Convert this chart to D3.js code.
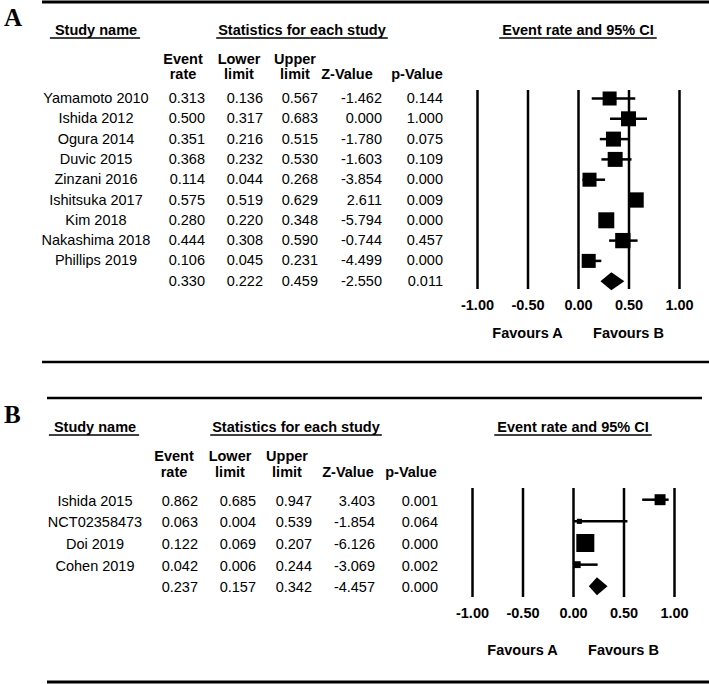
<!DOCTYPE html>
<meta charset="utf-8">
<title>Forest plots - event rate and 95% CI</title>
<style type="text/css">
body {
  margin: 0;
  background: #fff;
}
svg text {
  font-family: "Liberation Sans", Arial, sans-serif;
  font-size: 14.5px;
  fill: #000;
}
.bold { font-weight: bold; }
.letter {
  font-family: "Liberation Serif", "Times New Roman", serif !important;
  font-size: 25px !important;
  font-weight: bold;
}
.axis path { display: none; }
.axis line { stroke: #000; stroke-width: 2.5; }
.axis text { font-weight: bold; }
</style>
<script src="https://cdn.jsdelivr.net/npm/d3@7"></script>
<body>
<script>
var width = 709;
var height = 684;

// panel A
var studiesA = ["Yamamoto 2010","Ishida 2012","Ogura 2014","Duvic 2015","Zinzani 2016","Ishitsuka 2017","Kim 2018","Nakashima 2018","Phillips 2019"];
var rateA  = [0.313, 0.500, 0.351, 0.368, 0.114, 0.575, 0.280, 0.444, 0.106];
var lowerA = [0.136, 0.317, 0.216, 0.232, 0.044, 0.519, 0.220, 0.308, 0.045];
var upperA = [0.567, 0.683, 0.515, 0.530, 0.268, 0.629, 0.348, 0.590, 0.231];
var zA     = [-1.462, 0.000, -1.780, -1.603, -3.854, 2.611, -5.794, -0.744, -4.499];
var pA     = [0.144, 1.000, 0.075, 0.109, 0.000, 0.009, 0.000, 0.457, 0.000];
var weightsA = [9.9, 11.3, 11.3, 11.3, 9.9, 11.8, 12.9, 11.8, 9.9];
var overallA = [0.330, 0.222, 0.459, -2.550, 0.011];

// panel B
var studiesB = ["Ishida 2015","NCT02358473","Doi 2019","Cohen 2019"];
var rateB  = [0.862, 0.063, 0.122, 0.042];
var lowerB = [0.685, 0.004, 0.069, 0.006];
var upperB = [0.947, 0.539, 0.207, 0.244];
var zB     = [3.403, -1.854, -6.126, -3.069];
var pB     = [0.001, 0.064, 0.000, 0.002];
var weightsB = [23, 5, 62, 9];
var overallB = [0.237, 0.157, 0.342, -4.457, 0.000];

var ticks = [-1, -0.5, 0, 0.5, 1];
var colHeads = [["Event","rate"],["Lower","limit"],["Upper","limit"],["","Z-Value"],["","p-Value"]];

var svg = d3.select('body').append('svg').attr('width', width).attr('height', height);

function underlined(x, y, txt, padL, padR) {
  var t = svg.append('text').attr('class','bold').attr('x', x).attr('y', y)
             .attr('text-anchor','middle').text(txt);
  var bb = t.node().getBBox();
  svg.append('line')
     .attr('x1', bb.x - padL).attr('x2', bb.x + bb.width + padR)
     .attr('y1', y + 3).attr('y2', y + 3)
     .attr('stroke', '#000').attr('stroke-width', 1.6);
}

function drawPanel(p) {
  svg.append('text').attr('class','letter').attr('x', 4).attr('y', p.letterY).text(p.letter);

  underlined(p.nameX, p.headY, "Study name", 5, 3);
  underlined(p.statsX, p.headY, "Statistics for each study", 2, 2);
  underlined(p.ciX, p.headY, "Event rate and 95% CI", 3, 3);

  colHeads.forEach(function(h, i) {
    svg.append('text').attr('class','bold').attr('x', p.headCols[i]).attr('y', p.sub1Y)
       .attr('text-anchor','middle').text(h[0]);
    svg.append('text').attr('class','bold').attr('x', p.headCols[i]).attr('y', p.sub2Y)
       .attr('text-anchor','middle').text(h[1]);
  });

  var n = p.studies.length;
  var yScale = d3.scaleLinear().domain([0, n]).range([p.row0, p.row0 + n * p.rowStep]);
  var xScale = d3.scaleLinear().domain([-1, 1]).range(p.xRange);
  var size = d3.scaleSqrt().domain([0, d3.max(p.weights)]).range([0, p.maxSize]);

  var rows = p.studies.map(function(s, i) {
    return {name: s, vals: [p.rate[i], p.lower[i], p.upper[i], p.z[i], p.p[i]], w: p.weights[i], i: i};
  });
  rows.push({name: "", vals: p.overall, w: null, i: n});

  // axis with full-height grid lines
  var axis = svg.append('g').attr('class','axis')
      .attr('transform', 'translate(0,' + p.lineBottom + ')')
      .call(d3.axisBottom(xScale).tickValues(ticks)
            .tickSizeInner(-(p.lineBottom - p.lineTop)).tickSizeOuter(0)
            .tickPadding(10.5)
            .tickFormat(function(d) { return d.toFixed(2); }));
  axis.selectAll('text').style('font-size', '14.5px').attr('fill', '#000');

  svg.append('text').attr('class','bold').attr('x', xScale(-0.5)).attr('y', p.favY)
     .attr('text-anchor','middle').text("Favours A");
  svg.append('text').attr('class','bold').attr('x', xScale(0.5)).attr('y', p.favY)
     .attr('text-anchor','middle').text("Favours B");

  var g = svg.selectAll('.row' + p.letter).data(rows).enter().append('g')
     .attr('class', 'row' + p.letter);

  g.append('text').attr('x', p.nameX).attr('y', function(d) { return yScale(d.i); })
   .attr('text-anchor','middle').text(function(d) { return d.name; });

  [0,1,2,3,4].forEach(function(c) {
    g.append('text').attr('x', p.numCols[c]).attr('y', function(d) { return yScale(d.i); })
     .attr('text-anchor','end').text(function(d) { return d.vals[c].toFixed(3); });
  });

  var studyG = g.filter(function(d) { return d.w !== null; });
  studyG.append('line')
     .attr('x1', function(d) { return xScale(d.vals[1]); })
     .attr('x2', function(d) { return xScale(d.vals[2]); })
     .attr('y1', function(d) { return yScale(d.i) - p.markOff; })
     .attr('y2', function(d) { return yScale(d.i) - p.markOff; })
     .attr('stroke', '#000').attr('stroke-width', 2.5);
  studyG.append('rect')
     .attr('x', function(d) { return xScale(d.vals[0]) - size(d.w) / 2; })
     .attr('y', function(d) { return yScale(d.i) - p.markOff - size(d.w) / 2; })
     .attr('width', function(d) { return size(d.w); })
     .attr('height', function(d) { return size(d.w); })
     .attr('fill', '#000');

  g.filter(function(d) { return d.w === null; }).append('path')
     .attr('d', function(d) {
        var cy = yScale(d.i) - p.markOff;
        return 'M' + xScale(d.vals[1]) + ',' + cy +
               'L' + xScale(d.vals[0]) + ',' + (cy - 9) +
               'L' + xScale(d.vals[2]) + ',' + cy +
               'L' + xScale(d.vals[0]) + ',' + (cy + 9) + 'Z';
     })
     .attr('fill', '#000');
}

drawPanel({
  letter: "A", letterY: 26,
  studies: studiesA, rate: rateA, lower: lowerA, upper: upperA, z: zA, p: pA,
  weights: weightsA, overall: overallA, maxSize: 16,
  headY: 35, sub1Y: 64, sub2Y: 78.5,
  nameX: 96, statsX: 302, ciX: 578,
  headCols: [183, 239, 295, 347, 417],
  numCols: [205, 263, 318, 382, 443],
  row0: 103, rowStep: 20.3, markOff: 4.5,
  xRange: [477, 679], lineTop: 90, lineBottom: 289, favY: 338
});

drawPanel({
  letter: "B", letterY: 423,
  studies: studiesB, rate: rateB, lower: lowerB, upper: upperB, z: zB, p: pB,
  weights: weightsB, overall: overallB, maxSize: 18,
  headY: 432, sub1Y: 461, sub2Y: 477,
  nameX: 95, statsX: 296, ciX: 573,
  headCols: [174, 230, 287, 348, 411],
  numCols: [198, 256, 312, 375, 438],
  row0: 505.7, rowStep: 21.65, markOff: 6,
  xRange: [472, 674], lineTop: 488, lineBottom: 597, favY: 655
});

// horizontal rules
svg.append('line').attr('x1', 42).attr('x2', 709).attr('y1', 2).attr('y2', 2)
   .attr('stroke', '#000').attr('stroke-width', 3);
svg.append('line').attr('x1', 42).attr('x2', 709).attr('y1', 362).attr('y2', 362)
   .attr('stroke', '#000').attr('stroke-width', 2.5);
svg.append('line').attr('x1', 47).attr('x2', 702).attr('y1', 398).attr('y2', 398)
   .attr('stroke', '#000').attr('stroke-width', 2.5);
svg.append('line').attr('x1', 47).attr('x2', 709).attr('y1', 682).attr('y2', 682)
   .attr('stroke', '#000').attr('stroke-width', 3);
</script>
</body>
</html>
